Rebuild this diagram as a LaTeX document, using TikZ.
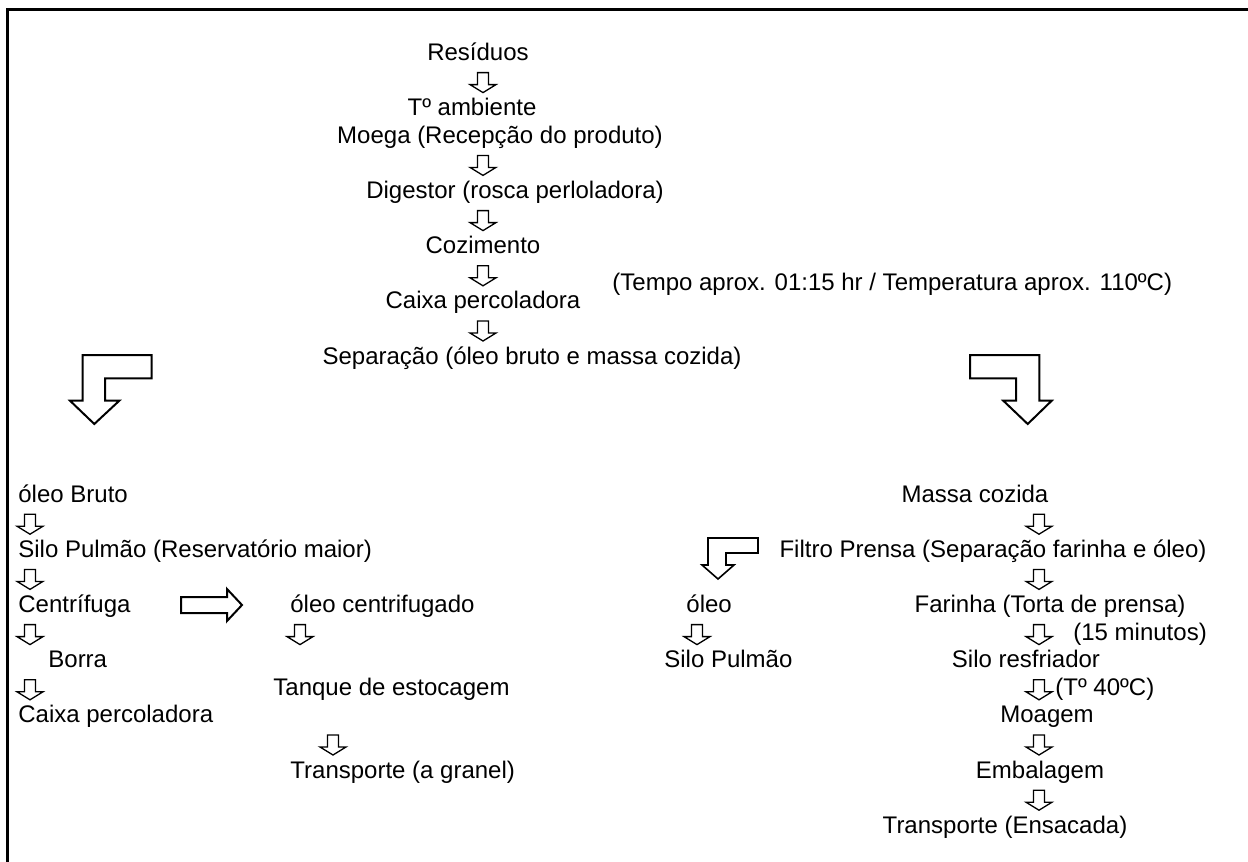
\documentclass[tikz,border=0pt]{standalone}
\usepackage{fontspec}
\setmainfont{Liberation Sans}
\usetikzlibrary{positioning}
\tikzset{
    txt/.style={inner sep=0pt, anchor=base, font=\fontsize{12}{14}\selectfont},
    ltxt/.style={txt, anchor=base west},
    cava/.style={draw, line width=1pt, line join=miter, fill=white},
    freccia/.pic={
        \draw[cava, line width=0.65pt] (-5.5,-7) -- (5.5,-7) -- (5.5,5) -- (13,5) -- (0,13) -- (-13,5) -- (-5.5,5) -- cycle;
    }
}

\begin{document}
\begin{tikzpicture}[x=0.5pt, y=-0.5pt]
        \useasboundingbox (0,0) rectangle (1248,862);
        % Cornice
        \draw[line width=1.5pt] (7.5,862) -- (7.5,9.5) -- (1248,9.5);

        % Catena principale
        \node[txt] (res) at (478,60) {Resíduos};
        \node[txt] (amb) at (472,115) {Tº ambiente};
        \node[txt] (moe) at (500,143) {Moega (Recepção do produto)};
        \node[txt] (dig) at (515,198) {Digestor (rosca perloladora)};
        \node[txt] (coz) at (483,253) {Cozimento};
        \node[ltxt] (tem) at (612,290) {(Tempo aprox. 01:15 hr / Temperatura aprox. 110ºC)};
        \node[txt] (cxa) at (483,308) {Caixa percoladora};
        \node[txt] (sep) at (532,364) {Separação (óleo bruto e massa cozida)};

        % Frecce piegate grandi
        \draw[cava] (82.7,355) -- (151.7,355) -- (151.7,378.3) -- (105,378.3) -- (105,400.7)
            -- (119.3,400.7) -- (94.3,424) -- (70,400.7) -- (82.7,400.7) -- cycle;
        \draw[cava] (970,355) -- (1039.3,355) -- (1039.3,400.7) -- (1051.7,400.7) -- (1027.7,424)
            -- (1003.3,400.7) -- (1016,400.7) -- (1016,378.3) -- (970,378.3) -- cycle;

        % Colonna olio
        \node[ltxt] (olb) at (18,502) {óleo Bruto};
        \node[ltxt] (sil) at (18,557) {Silo Pulmão (Reservatório maior)};
        \node[ltxt] (cen) at (18,612) {Centrífuga};
        \node[ltxt] (bor) at (48,667) {Borra};
        \node[ltxt] (cxp) at (18,722) {Caixa percoladora};

        % Freccia verso destra
        \draw[cava] (181,597) -- (227,597) -- (227,589) -- (242,605) -- (227,621) -- (227,613)
            -- (181,613) -- cycle;

        % Colonna olio centrifugato
        \node[ltxt] (olc) at (290,612) {óleo centrifugado};
        \node[ltxt] (tan) at (273,695) {Tanque de estocagem};
        \node[ltxt] (trg) at (290,778) {Transporte (a granel)};

        % Colonna massa
        \node[txt] (mas) at (975,502) {Massa cozida};
        \node[txt] (fil) at (993,557) {Filtro Prensa (Separação farinha e óleo)};
        \node[txt] (far) at (1050,612) {Farinha (Torta de prensa)};
        \node[ltxt] (min) at (1073,640) {(15 minutos)};
        \node[txt] (slr) at (1026,667) {Silo resfriador};
        \node[ltxt] (t40) at (1055,695) {(Tº 40ºC)};
        \node[txt] (moa) at (1047,722) {Moagem};
        \node[txt] (emb) at (1040,778) {Embalagem};
        \node[txt] (trs) at (1005,833) {Transporte (Ensacada)};

        % Ramo olio dal filtro
        \draw[cava, line width=0.8pt] (708,538) -- (758,538) -- (758,553) -- (726,553) -- (726,565)
            -- (734,565) -- (718,579) -- (702,565) -- (708,565) -- cycle;
        \node[ltxt] (olf) at (686,612) {óleo};
        \node[ltxt] (spf) at (664,667) {Silo Pulmão};

        % Frecce piccole
        \foreach \x/\y in {483/79.6, 483/162.4, 483/217.6, 483/272.8, 483/328,
                           30/521.2, 30/576.4, 30/631.6, 30/686.8,
                           300/631.6, 333/742,
                           1039/521.2, 1039/576.4, 1039/631.6, 1039/686.8, 1039/742, 1039/797.2,
                           697/631.6}
            \pic at (\x,\y) {freccia};
\end{tikzpicture}
\end{document}
